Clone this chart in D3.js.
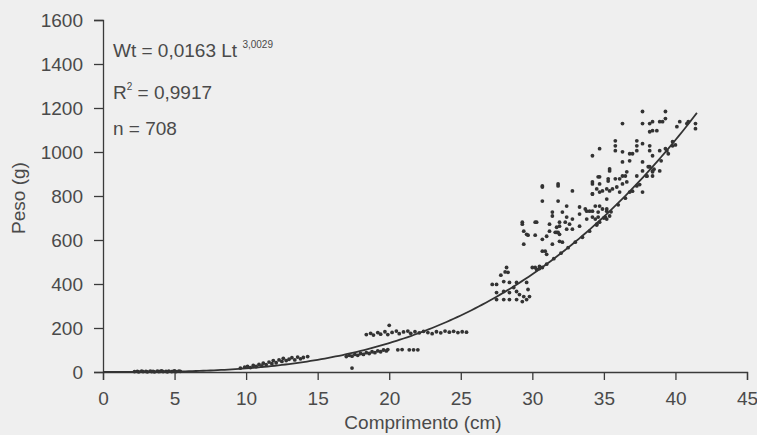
<!DOCTYPE html>
<html>
<head>
<meta charset="utf-8">
<script src="https://cdn.jsdelivr.net/npm/d3@7"></script>
<style>
  html, body { margin: 0; padding: 0; background: #eeeeee; }
  #chart { width: 757px; height: 435px; }
</style>
</head>
<body>
<div id="chart"></div>
<script>
// Comprimento (cm) x Peso (g), grouped by cluster
const grupoA = [[2.2,2],[2.4,3],[2.5,1],[2.7,4],[2.8,2],[3.0,3],[3.1,1],[3.3,4],[3.4,2],[3.5,3],[3.6,1],[3.8,4],
    [3.9,2],[4.0,3],[4.1,5],[4.2,2],[4.4,3],[4.5,1],[4.6,4],[4.8,2],[4.9,3],[5.0,5],[5.1,2],[5.3,4],[5.4,3]];
const grupoB = [[9.6,18],[9.9,22],[10.1,26],[10.3,20],[10.5,30],[10.7,25],[10.9,34],[11.1,28],[11.2,40],[11.4,33],
    [11.6,45],[11.8,38],[11.9,52],[12.1,42],[12.3,55],[12.5,48],[12.6,62],[12.8,52],[13.0,58],[13.2,65],[13.4,55],
    [13.6,68],[13.8,60],[14.0,66],[14.3,70]];
const grupoC = [[17.4,18],[17.0,70],[17.2,76],[17.4,72],[17.6,80],[17.8,76],[18.0,84],[18.2,80],[18.4,88],[18.6,84],
    [18.8,92],[19.0,88],[19.2,96],[19.4,92],[19.6,100],[19.8,96],[19.9,102],[20.6,101],[20.9,102],[21.4,101],
    [21.7,101],[22.0,101]];
const grupoD = [[18.4,170],[18.7,176],[18.9,168],[19.2,179],[19.4,172],[19.7,183],[19.9,170],[20.2,180],[20.5,186],
    [20.7,174],[21.0,182],[21.3,186],[21.5,176],[21.8,183],[22.1,178],[22.4,185],[22.7,179],[23.0,174],[23.3,183],
    [23.6,178],[23.9,186],[24.2,181],[24.5,185],[24.8,179],[25.1,183],[25.4,181],[20.0,212]];
const grupoE = [[27.2,398],[27.5,398],[28.0,411],[28.4,407],[28.9,407],[29.6,407],[27.5,361],[28.0,366],[28.4,361],
    [28.9,366],[29.1,352],[29.4,343],[29.8,343],[27.5,329],[28.0,329],[28.4,329],[28.9,329],[29.3,320],[29.6,329],
    [28.7,384],[29.7,375],[28.2,475],[28.3,453],[27.8,440],[28.1,455]];
const grupoF = [[30.3,466],[30.7,475],[29.4,640],[29.7,622],[30.2,622],[31.0,617],[31.6,635],[31.9,626],[29.4,581],
    [31.4,581],[30.7,549],[31.0,535],[32.1,590],[29.3,681],[30.3,681],[31.2,672],[31.7,658],[31.9,681],[31.2,640],
    [31.8,635],[32.6,672],[32.8,649],[33.3,663],[30.7,603],[30.9,549],[31.9,594],[30.5,480],[30.2,475],[30.0,475],
    [30.7,846],[31.8,855],[32.8,823],[30.7,777],[31.8,777],[32.4,754],[33.3,750],[34.2,855],[34.6,887],[34.7,855],
    [34.2,809],[34.7,818],[35.3,868],[35.4,823],[35.2,786],[35.4,914],[31.4,727],[32.1,727],[32.4,704],[32.8,695],
    [33.3,718],[33.7,741],[34.0,731],[34.4,754],[34.6,727],[34.9,741],[33.8,695],[34.2,704],[34.5,672],[35.2,695],
    [35.4,709],[37.7,1184],[39.3,1184],[36.3,1129],[37.7,1129],[38.2,1129],[39.1,1138],[39.3,1152],[38.2,1092],
    [38.7,1097],[40.8,1129],[41.4,1129],[41.4,1106],[40.1,1115],[35.8,1051],[35.8,1028],[35.8,1006],[37.3,1051],
    [37.3,1028],[37.3,1006],[37.7,1038],[38.2,1028],[38.2,1006],[38.4,983],[38.9,1006],[39.4,1006],[39.8,1028],
    [36.3,1001],[36.8,992],[34.7,1015],[34.2,983],[36.3,955],[36.8,960],[37.7,955],[38.1,933],[35.4,923],[34.7,887],
    [34.2,864],[35.3,878],[35.8,878],[36.3,891],[36.6,910],[37.7,914],[38.4,914],[38.9,914],[38.4,891],[37.3,891],
    [34.5,832],[34.9,823],[35.6,832],[35.9,841],[36.3,855],[37.3,846],[37.7,818],[36.8,818],[34.2,809],[34.7,754],
    [35.2,741],[34.2,731],[34.6,704],[35.1,704],[38.4,1138],[38.9,1138],[40.3,1138],[40.9,1138],[38.4,1097],
    [39.3,1015],[39.8,1047],[37.0,992],[38.2,933],[38.4,910],[38.0,891],[36.1,878],[36.5,891],[36.6,864],[36.1,818],
    [35.2,832],[31.8,846],[30.7,841],[33.8,731],[35.2,731],[34.7,681],[34.4,695],[29.3,672],[30.2,681],[29.6,626],
    [31.4,709],[31.9,663],[32.3,681],[32.4,649],[31.7,635],
    [30.5,470],[31.0,490],[31.5,515],[32.0,540],[32.5,565],[33.0,590],[33.5,612],[34.0,640],[34.5,668],[35.0,700],
    [35.5,728],[36.0,760],[36.5,790],[37.0,822],[37.5,852],[38.0,890],[38.5,922],[39.0,960],[39.5,992],[40.0,1032]];

// Fitted power curve, as given on the chart
const coefA = 0.0163;
const coefB = 3.0029;
const xTicks = [0, 5, 10, 15, 20, 25, 30, 35, 40, 45];
const yTicks = [0, 200, 400, 600, 800, 1000, 1200, 1400, 1600];

const width = 757;
const height = 435;
const font = "Liberation Sans, Arial, sans-serif";
const ink = "#3a3a3a";
const textInk = "#4a4a4a";
const fs = "19px";

const svg = d3.select("#chart").append("svg")
    .attr("width", width).attr("height", height)
    .style("font-family", font);

svg.append("rect").attr("width", width).attr("height", height).attr("fill", "#efefef");

const x = d3.scaleLinear().domain([0, 45]).range([103, 747]);
const y = d3.scaleLinear().domain([0, 1600]).range([372, 20]);

// Axes
const xAxis = svg.append("g")
    .attr("transform", `translate(0,${y(0)})`)
    .call(d3.axisBottom(x).tickValues(xTicks).tickSize(8).tickPadding(12));
const yAxis = svg.append("g")
    .attr("transform", `translate(${x(0)},0)`)
    .call(d3.axisLeft(y).tickValues(yTicks).tickFormat(d3.format("d")).tickSize(9).tickPadding(11));

[xAxis, yAxis].forEach(a => {
    a.select(".domain").attr("stroke", ink).attr("stroke-width", 1.3);
    a.selectAll(".tick line").attr("stroke", ink).attr("stroke-width", 1.3);
    a.selectAll(".tick text").attr("fill", textInk).style("font-size", fs).style("font-family", font);
});

// Points
const pontos = [].concat(grupoA, grupoB, grupoC, grupoD, grupoE, grupoF);
svg.append("g")
    .selectAll("circle")
    .data(pontos)
    .join("circle")
    .attr("cx", d => x(d[0]))
    .attr("cy", d => y(d[1]))
    .attr("r", 1.9)
    .attr("fill", "#333");

// Trend line
const curva = d3.range(0, 41.51, 0.25).map(l => [l, coefA * Math.pow(l, coefB)]);
svg.append("path")
    .datum(curva)
    .attr("fill", "none")
    .attr("stroke", "#333")
    .attr("stroke-width", 1.8)
    .attr("d", d3.line().x(d => x(d[0])).y(d => y(d[1])));

// Axis titles
svg.append("text")
    .attr("x", 423).attr("y", 429)
    .attr("text-anchor", "middle")
    .attr("fill", textInk)
    .style("font-size", fs)
    .text("Comprimento (cm)");

svg.append("text")
    .attr("transform", "translate(25,198) rotate(-90)")
    .attr("text-anchor", "middle")
    .attr("fill", textInk)
    .style("font-size", fs)
    .text("Peso (g)");

// Equation box
const eq = svg.append("text")
    .attr("x", 113).attr("y", 57)
    .attr("fill", textInk)
    .style("font-size", fs);
eq.append("tspan").text("Wt = 0,0163 Lt ");
eq.append("tspan").attr("dy", -9).style("font-size", "10px").text("3,0029");

const r2 = svg.append("text")
    .attr("x", 113).attr("y", 99)
    .attr("fill", textInk)
    .style("font-size", fs);
r2.append("tspan").text("R");
r2.append("tspan").attr("dy", -9).style("font-size", "10px").text("2");
r2.append("tspan").attr("dy", 9).text(" = 0,9917");

svg.append("text")
    .attr("x", 113).attr("y", 135)
    .attr("fill", textInk)
    .style("font-size", fs)
    .text("n = 708");
</script>
</body>
</html>
